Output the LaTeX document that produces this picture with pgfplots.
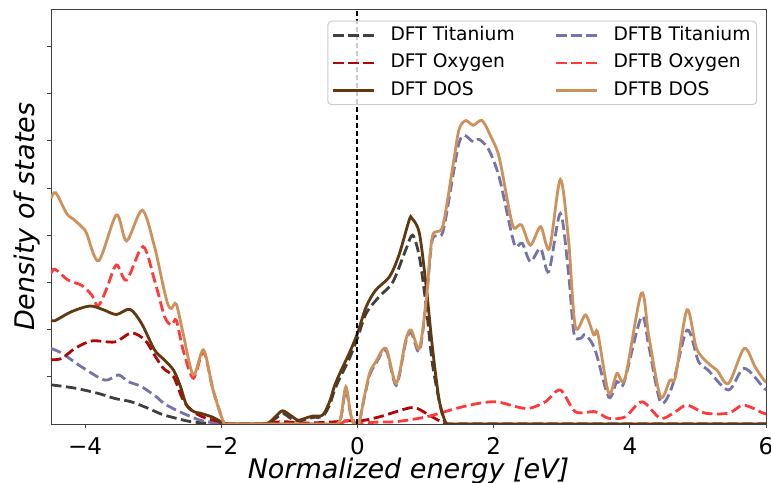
\documentclass[border=0pt]{standalone}
\usepackage{pgfplots}
\pgfplotsset{compat=1.18}
\usepackage{fontspec}
\setmainfont{DejaVu Sans}
\definecolor{dftti}{RGB}{64,64,64}
\definecolor{dfto}{RGB}{178,6,6}
\definecolor{dftdos}{RGB}{98,56,14}
\definecolor{dftbti}{RGB}{116,116,170}
\definecolor{dftbo}{RGB}{255,58,58}
\definecolor{dftbdos}{RGB}{205,145,92}
\begin{document}
\begin{tikzpicture}
\begin{axis}[
  scale only axis, width=715pt, height=414.3pt,
  xmin=-4.5, xmax=6, ymin=0, ymax=8.78,
  xtick={-4,-2,0,2,4,6},
  xticklabels={−4,−2,0,2,4,6},
  ytick={1,2,3,4,5,6,7,8}, yticklabels={},
  xtick pos=bottom, ytick pos=left,
  tick align=outside, major tick length=4pt,
  tick style={black!75, line width=0.9pt},
  axis line style={black!75, line width=0.9pt},
  every tick label/.style={font=\fontsize{23}{27}\selectfont},
  xticklabel style={anchor=base, yshift=-26.7pt},
  xlabel={Normalized energy [eV]},
  ylabel={Density of states},
  xlabel style={font=\fontsize{27}{32}\selectfont\itshape, at={(axis description cs:0.5,0)}, anchor=base, yshift=-54.5pt},
  ylabel style={font=\fontsize{27}{32}\selectfont\itshape, at={(axis description cs:-0.02238,0.5)}, anchor=base, rotate=0},
  legend columns=2,
  legend style={at={(axis description cs:1,1)}, anchor=north east, xshift=-9pt, yshift=-11pt,
    font=\fontsize{18.7}{22}\selectfont, draw=black!20, line width=1pt, rounded corners=4pt,
    fill=white, fill opacity=0.8, text opacity=1,
    inner xsep=4pt, inner ysep=3pt, row sep=5pt,
    nodes={inner sep=2pt, text height=14pt, text depth=4.5pt, anchor=west},
    /tikz/every odd column/.append style={column sep=14pt},
    /tikz/every even column/.append style={column sep=38pt}},
  legend cell align=left,
  legend image code/.code={\draw[#1] plot coordinates {(0pt,0pt) (20pt,0pt) (40pt,0pt)};},
  dashline/.style={line width=2.8pt, dash pattern=on 10.5pt off 4.5pt},
  solidline/.style={line width=2.8pt},
]
% DFT Titanium
\addplot[dftti, dashline, smooth] coordinates {
(-4.5,0.83) (-4.15,0.76) (-3.81,0.65) (-3.56,0.54) (-3.32,0.47) (-3.07,0.33) (-2.88,0.21)
(-2.66,0.12) (-2.45,0.05) (-2.25,0.02) (-2.05,0) (-1.7,0) (-1.4,0) (-1.3,0.02) (-1.2,0.12)
(-1.09,0.22) (-0.98,0.12) (-0.87,0.06) (-0.75,0.10) (-0.65,0.14) (-0.51,0.16) (-0.41,0.40)
(-0.34,0.70) (-0.26,0.97) (-0.12,1.38) (0.0,1.82) (0.13,2.35) (0.32,2.70) (0.52,3.01)
(0.71,3.69) (0.81,4.00) (0.91,3.54) (1.01,2.49) (1.10,1.29) (1.23,0.30) (1.32,0) (1.6,0)
(3,0) (4.5,0) (6,0)};
\addlegendentry{DFT Titanium}
% DFTB Titanium
\addplot[dftbti, dashline, smooth] coordinates {
(-4.5,1.60) (-4.34,1.50) (-4.05,1.21) (-3.71,0.93) (-3.51,1.04) (-3.37,0.90) (-3.17,0.79)
(-2.93,0.55) (-2.85,0.44) (-2.61,0.26) (-2.31,0.08) (-2.07,0.015) (-1.95,0) (-1.6,0) (-1,0)
(-0.5,0) (-0.30,0) (-0.24,0.15) (-0.17,0.72) (-0.10,0.20) (-0.05,0) (0.02,0) (0.10,0.55)
(0.18,1.04) (0.27,1.28) (0.42,1.56) (0.57,0.82) (0.71,1.74) (0.79,1.93) (0.91,1.54)
(1.01,2.58) (1.10,3.90) (1.25,4.05) (1.40,5.24) (1.49,5.95) (1.57,6.12) (1.70,5.98)
(1.79,6.03) (1.93,5.81) (2.08,5.24) (2.23,4.25) (2.32,3.76) (2.42,3.83) (2.54,3.44)
(2.69,3.72) (2.81,3.23) (2.98,4.46) (3.10,3.19) (3.18,1.92) (3.28,1.82) (3.35,1.89)
(3.49,1.57) (3.69,0.57) (3.81,0.90) (3.91,0.86) (4.17,2.27) (4.28,1.64) (4.45,0.47)
(4.62,0.79) (4.84,1.99) (5.01,1.32) (5.15,1.14) (5.45,0.72) (5.68,1.18) (5.97,0.76) (6.0,0.74)};
\addlegendentry{DFTB Titanium}
% DFT Oxygen
\addplot[dfto, dashline, smooth] coordinates {
(-4.5,1.36) (-4.34,1.39) (-4.15,1.60) (-3.90,1.76) (-3.56,1.74) (-3.32,1.93) (-3.12,1.78)
(-2.98,1.46) (-2.85,1.18) (-2.70,1.00) (-2.56,0.51) (-2.41,0.26) (-2.22,0.12) (-2.02,0.05)
(-1.93,0) (-1.7,0) (-1.4,0) (-1.1,0.05) (-0.8,0.02) (-0.4,0.04) (-0.1,0.07) (0.03,0.06)
(0.32,0.15) (0.57,0.26) (0.83,0.35) (1.05,0.19) (1.25,0.03) (1.32,0) (1.6,0) (3,0) (4.5,0) (6,0)};
\addlegendentry{DFT Oxygen}
% DFTB Oxygen
\addplot[dftbo, dashline, smooth] coordinates {
(-4.5,3.19) (-4.44,3.28) (-4.25,3.05) (-4.05,2.94) (-3.90,2.73) (-3.81,2.50) (-3.69,2.84)
(-3.54,3.37) (-3.39,3.05) (-3.15,3.76) (-2.98,3.05) (-2.83,2.27) (-2.73,2.10) (-2.66,2.20)
(-2.56,1.57) (-2.41,0.97) (-2.26,1.53) (-2.12,0.72) (-1.97,0.05) (-1.92,0) (-1.6,0) (-1,0)
(-0.30,0) (-0.17,0.07) (0.0,0.02) (0.3,0.04) (0.57,0.05) (1.01,0.15) (1.45,0.33) (1.79,0.44)
(2.05,0.47) (2.32,0.37) (2.52,0.33) (2.76,0.47) (2.98,0.72) (3.20,0.26) (3.49,0.26)
(3.69,0.12) (3.93,0.15) (4.18,0.47) (4.45,0.12) (4.67,0.26) (4.84,0.40) (5.11,0.23)
(5.45,0.23) (5.67,0.40) (5.96,0.23) (6.0,0.22)};
\addlegendentry{DFTB Oxygen}
% DFT DOS
\addplot[dftdos, solidline, smooth] coordinates {
(-4.5,2.20) (-4.44,2.19) (-4.20,2.38) (-3.93,2.50) (-3.73,2.42) (-3.54,2.32) (-3.34,2.43)
(-3.17,2.13) (-2.98,1.57) (-2.85,1.38) (-2.70,1.14) (-2.60,0.80) (-2.51,0.40) (-2.40,0.26)
(-2.31,0.23) (-2.12,0.14) (-1.97,0.02) (-1.90,0) (-1.65,0) (-1.40,0) (-1.30,0.03) (-1.20,0.16)
(-1.10,0.28) (-0.98,0.18) (-0.87,0.08) (-0.75,0.13) (-0.65,0.17) (-0.51,0.19) (-0.41,0.47)
(-0.34,0.79) (-0.26,1.07) (-0.12,1.50) (0.0,1.92) (0.13,2.49) (0.27,2.84) (0.47,3.12)
(0.61,3.58) (0.76,4.32) (0.80,4.36) (0.91,4.04) (1.01,2.91) (1.10,1.64) (1.20,0.51)
(1.30,0.01) (1.35,0) (1.6,0) (3,0) (4.5,0) (6,0)};
\addlegendentry{DFT DOS}
% DFTB DOS
\addplot[dftbdos, solidline, smooth] coordinates {
(-4.5,4.78) (-4.43,4.90) (-4.27,4.46) (-4.17,4.34) (-4.05,4.18) (-3.98,4.05) (-3.80,3.46)
(-3.54,4.43) (-3.39,3.88) (-3.16,4.53) (-2.98,3.76) (-2.85,2.91) (-2.78,2.52) (-2.73,2.45)
(-2.66,2.54) (-2.56,1.92) (-2.41,1.04) (-2.26,1.57) (-2.12,0.72) (-1.97,0.05) (-1.92,0)
(-1.6,0) (-1,0) (-0.5,0) (-0.30,0) (-0.24,0.17) (-0.17,0.79) (-0.10,0.22) (-0.05,0) (0.02,0)
(0.10,0.57) (0.18,1.08) (0.27,1.32) (0.42,1.60) (0.57,0.86) (0.71,1.78) (0.79,1.99)
(0.91,1.60) (1.01,2.63) (1.10,3.97) (1.25,4.18) (1.40,5.45) (1.49,6.23) (1.59,6.43)
(1.70,6.33) (1.83,6.43) (1.96,6.09) (2.08,5.66) (2.23,4.53) (2.30,4.15) (2.41,4.22)
(2.54,3.79) (2.69,4.18) (2.82,3.72) (2.98,5.18) (3.10,3.90) (3.20,2.06) (3.35,2.31)
(3.47,1.89) (3.53,1.92) (3.69,0.65) (3.81,1.07) (3.93,0.97) (4.17,2.77) (4.28,1.85)
(4.45,0.58) (4.59,0.93) (4.67,1.00) (4.84,2.42) (4.98,1.60) (5.15,1.29) (5.28,1.14)
(5.45,0.86) (5.68,1.60) (5.84,1.21) (5.97,0.93) (6.0,0.90)};
\addlegendentry{DFTB DOS}
% Fermi level
\addplot[black, line width=2pt, dash pattern=on 5pt off 3pt, forget plot] coordinates {(0,0) (0,8.78)};
\end{axis}
\pgfresetboundingbox
\path ([xshift=-51pt,yshift=-59pt]current axis.south west) rectangle ([xshift=5pt,yshift=9.7pt]current axis.north east);
\end{tikzpicture}
\end{document}
